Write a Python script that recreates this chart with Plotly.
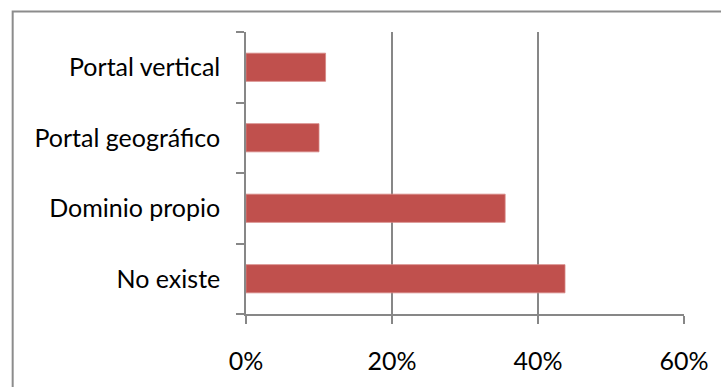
import plotly.graph_objects as go

categories = ["No existe", "Dominio propio", "Portal geográfico", "Portal vertical"]
values = [0.437, 0.355, 0.10, 0.109]
x_ticks = [0, 0.2, 0.4, 0.6]
x_tick_labels = ["0%", "20%", "40%", "60%"]

W, H = 721, 387
L, R, T, B = 245.5, 721 - 685.7, 31.7, 387 - 315.7
pw, ph = W - L - R, H - T - B

def px_x(p):
    return (p - L) / pw

def px_y(p):
    return (H - p - B) / ph

fig = go.Figure(go.Bar(
    x=values, y=categories, orientation="h",
    marker=dict(color="#C0504D", line=dict(color="#D58583", width=0.8)),
    width=0.4,
))

grid = "#878787"
fig.update_layout(
    width=W, height=H,
    margin=dict(l=L, r=R, t=T, b=B, pad=0),
    paper_bgcolor="white", plot_bgcolor="white",
    showlegend=False,
    font=dict(family="Lato, Open Sans, sans-serif", size=25, color="black"),
    xaxis=dict(range=[0, 0.6], tickvals=x_ticks, ticktext=x_tick_labels,
               tickfont=dict(size=25),
               showgrid=True, gridcolor=grid, gridwidth=1.5,
               showline=True, linecolor=grid, linewidth=1.5,
               ticks="outside", ticklen=8, tickcolor=grid, tickwidth=1.5,
               ticklabelstandoff=16, zeroline=False, fixedrange=True),
    yaxis=dict(categoryorder="array", categoryarray=categories,
               range=[-0.5, 3.5], tickfont=dict(size=25),
               showgrid=False, showline=True, linecolor=grid, linewidth=1.5,
               ticks="outside", ticklen=8, tickcolor=grid, tickwidth=1.5,
               tickson="boundaries", ticklabelstandoff=19, fixedrange=True),
    shapes=[dict(type="rect", xref="paper", yref="paper",
                 x0=px_x(11), x1=px_x(740),
                 y0=px_y(400), y1=px_y(11),
                 line=dict(color="#8C8C8C", width=2), fillcolor="rgba(0,0,0,0)",
                 layer="below")],
)

fig.write_html("out.html")
